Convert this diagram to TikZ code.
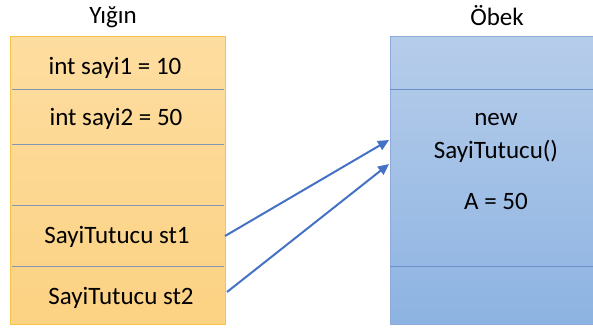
\documentclass[tikz,border=0pt]{standalone}
\usepackage{fontspec}
\setmainfont{Carlito}
\usetikzlibrary{arrows.meta}
\definecolor{stacktop}{HTML}{FDDDA0}
\definecolor{stackbot}{HTML}{FCD283}
\definecolor{stackborder}{HTML}{F5C446}
\definecolor{stackline}{HTML}{8497B0}
\definecolor{heaptop}{HTML}{B6CDEA}
\definecolor{heapbot}{HTML}{8DB3E2}
\definecolor{heapborder}{HTML}{8EAADB}
\definecolor{heapline}{HTML}{6A8FCB}
\definecolor{arrowblue}{HTML}{4472C4}
\begin{document}
\begin{tikzpicture}[x=1pt,y=-1pt,
  cell/.style={inner sep=0pt, font=\fontsize{25}{30}\selectfont},
  hcell/.style={inner sep=0pt, font=\fontsize{25}{33}\selectfont, align=center},
  title/.style={font=\fontsize{25}{30}\selectfont},
  stackbox/.style={draw=stackborder, line width=1pt, top color=stacktop, bottom color=stackbot},
  heapbox/.style={draw=heapborder, line width=1pt, top color=heaptop, bottom color=heapbot},
  divider/.style={stackline, line width=1pt},
  hdivider/.style={heapline, line width=1pt},
  ref/.style={arrowblue, line width=2pt, -{Triangle[length=11pt,width=10pt]}}]
\useasboundingbox (0,0) rectangle (593,329);
% titles
\node[title] (ttl1) at (113,17) {Yığın};
\node[title] (ttl2) at (497,16) {Öbek};
% stack
\path[stackbox] (10,37) rectangle (225,324);
\coordinate (stackE) at (225,180);
\foreach \y in {89,144,205,266}
  \draw[divider] (12,\y) -- (224,\y);
\node[cell] (s1) at (115,68) {int sayi1 = 10};
\node[cell] (s2) at (116,119) {int sayi2 = 50};
\node[cell] (s4) at (117,237) {SayiTutucu st1};
\node[cell] (s5) at (121,298) {SayiTutucu st2};
% heap
\path[heapbox] (390,37) rectangle (608,324);
\foreach \y in {89,266}
  \draw[hdivider] (390,\y) -- (608,\y);
\node[hcell, anchor=north] (obj) at (496,113) {new\\SayiTutucu()\\[18pt]A = 50};
% references
\coordinate (t1) at (389,140);
\coordinate (t2) at (389,164);
\draw[ref] ([yshift=1pt]s4.east -| stackE) -- (t1);
\draw[ref] ([xshift=2pt,yshift=6pt]s5.east -| stackE) -- (t2);
\end{tikzpicture}
\end{document}
